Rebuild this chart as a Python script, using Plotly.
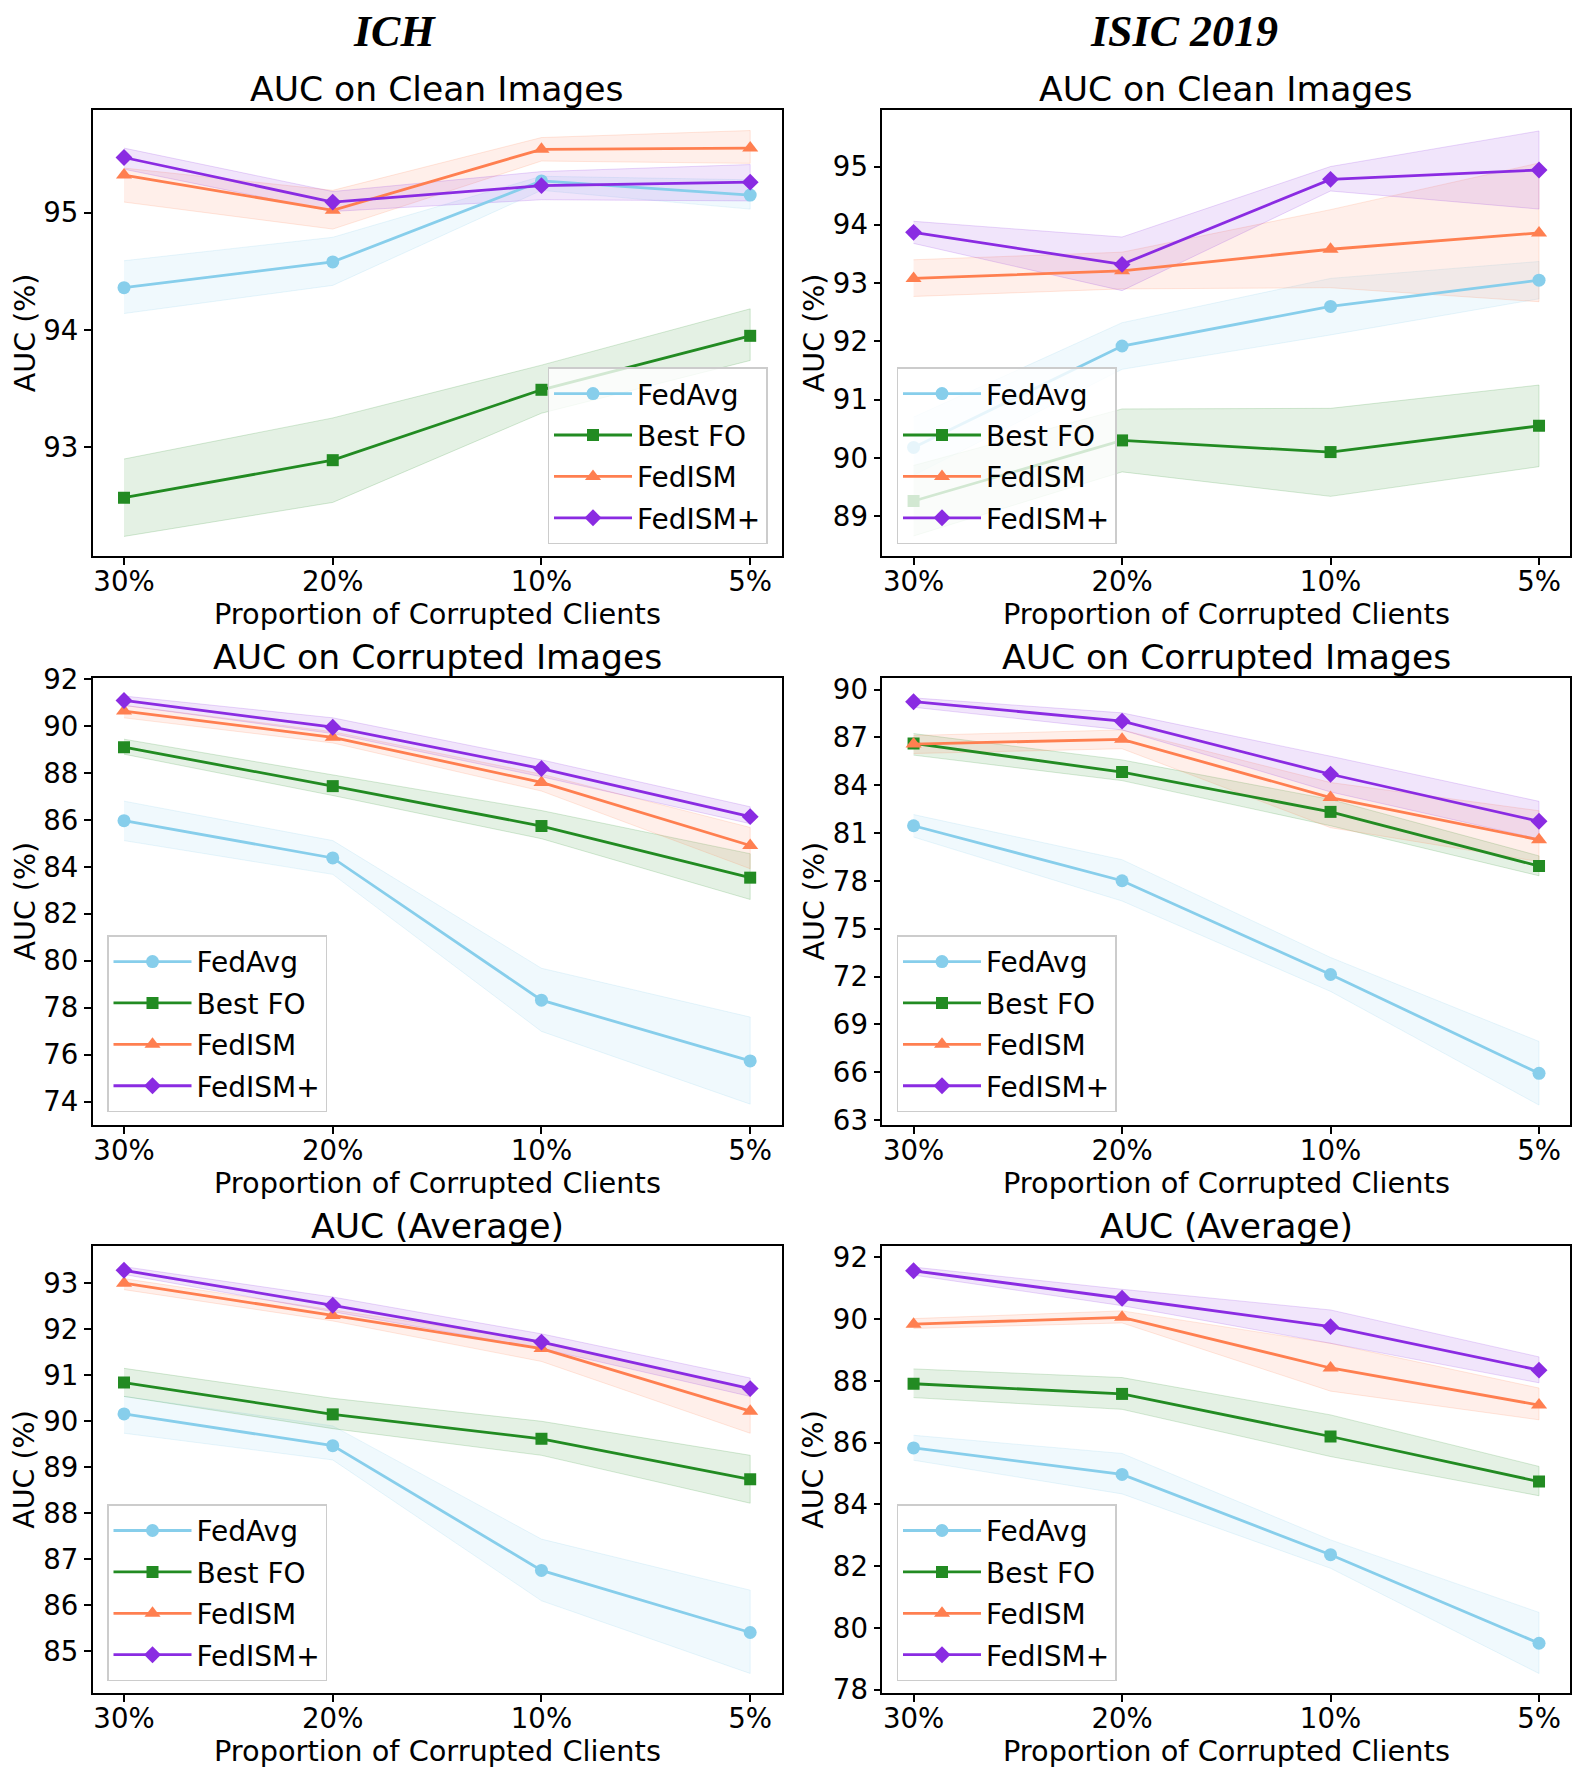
import plotly.graph_objects as go

W, H = 1578, 1786

# ---------------- data ----------------
x_labels = ["30%", "20%", "10%", "5%"]
methods = ["FedAvg", "Best FO", "FedISM", "FedISM+"]
column_titles = ["ICH", "ISIC 2019"]
panel_titles = ["AUC on Clean Images", "AUC on Corrupted Images", "AUC (Average)"]

# ICH - clean
ich_clean_fedavg = [94.36, 94.58, 95.27, 95.15]
ich_clean_fedavg_lo = [94.14, 94.38, 95.19, 95.03]
ich_clean_fedavg_hi = [94.59, 94.79, 95.31, 95.28]
ich_clean_bestfo = [92.57, 92.89, 93.49, 93.95]
ich_clean_bestfo_lo = [92.24, 92.53, 93.29, 93.74]
ich_clean_bestfo_hi = [92.90, 93.25, 93.70, 94.18]
ich_clean_fedism = [95.32, 95.02, 95.54, 95.55]
ich_clean_fedism_lo = [95.09, 94.86, 95.44, 95.42]
ich_clean_fedism_hi = [95.38, 95.19, 95.64, 95.70]
ich_clean_fedismp = [95.47, 95.09, 95.23, 95.26]
ich_clean_fedismp_lo = [95.37, 95.01, 95.11, 95.10]
ich_clean_fedismp_hi = [95.55, 95.18, 95.35, 95.41]

# ISIC 2019 - clean
isic_clean_fedavg = [90.18, 91.92, 92.60, 93.05]
isic_clean_fedavg_lo = [89.70, 91.52, 92.11, 92.73]
isic_clean_fedavg_hi = [90.70, 92.32, 93.08, 93.37]
isic_clean_bestfo = [89.26, 90.30, 90.10, 90.55]
isic_clean_bestfo_lo = [88.66, 89.76, 89.34, 89.85]
isic_clean_bestfo_hi = [89.87, 90.84, 90.85, 91.25]
isic_clean_fedism = [93.08, 93.21, 93.58, 93.86]
isic_clean_fedism_lo = [92.77, 92.90, 92.92, 92.68]
isic_clean_fedism_hi = [93.40, 93.53, 94.26, 95.06]
isic_clean_fedismp = [93.87, 93.32, 94.78, 94.94]
isic_clean_fedismp_lo = [93.68, 92.87, 94.58, 94.27]
isic_clean_fedismp_hi = [94.06, 93.79, 95.00, 95.61]

# ICH - corrupted
ich_corr_fedavg = [85.97, 84.38, 78.32, 75.73]
ich_corr_fedavg_lo = [85.12, 83.68, 76.99, 73.89]
ich_corr_fedavg_hi = [86.80, 85.12, 79.68, 77.60]
ich_corr_bestfo = [89.10, 87.44, 85.74, 83.54]
ich_corr_bestfo_lo = [88.80, 87.04, 85.20, 82.61]
ich_corr_bestfo_hi = [89.44, 87.92, 86.40, 84.56]
ich_corr_fedism = [90.64, 89.52, 87.60, 84.91]
ich_corr_fedism_lo = [90.35, 89.28, 87.23, 83.92]
ich_corr_fedism_hi = [90.88, 89.76, 87.95, 85.68]
ich_corr_fedismp = [91.09, 89.95, 88.19, 86.14]
ich_corr_fedismp_lo = [90.88, 89.68, 87.84, 85.84]
ich_corr_fedismp_hi = [91.28, 90.35, 88.56, 86.56]

# ISIC 2019 - corrupted
isic_corr_fedavg = [81.46, 78.01, 72.13, 65.93]
isic_corr_fedavg_lo = [80.75, 76.74, 71.07, 63.94]
isic_corr_fedavg_hi = [82.16, 79.33, 73.20, 67.93]
isic_corr_bestfo = [86.62, 84.83, 82.33, 78.93]
isic_corr_bestfo_lo = [85.89, 84.29, 81.46, 78.32]
isic_corr_bestfo_hi = [87.24, 85.59, 83.11, 79.57]
isic_corr_fedism = [86.58, 86.88, 83.23, 80.58]
isic_corr_fedism_lo = [85.99, 86.29, 81.34, 79.21]
isic_corr_fedism_hi = [87.12, 87.47, 84.17, 82.40]
isic_corr_fedismp = [89.24, 88.02, 84.69, 81.74]
isic_corr_fedismp_lo = [88.89, 87.47, 83.58, 80.63]
isic_corr_fedismp_hi = [89.48, 88.54, 85.82, 82.99]

# ICH - average
ich_avg_fedavg = [90.16, 89.47, 86.76, 85.41]
ich_avg_fedavg_lo = [89.74, 89.16, 86.10, 84.52]
ich_avg_fedavg_hi = [90.54, 89.90, 87.44, 86.33]
ich_avg_bestfo = [90.84, 90.15, 89.62, 88.74]
ich_avg_bestfo_lo = [90.54, 89.84, 89.26, 88.22]
ich_avg_bestfo_hi = [91.15, 90.50, 90.00, 89.26]
ich_avg_fedism = [93.00, 92.30, 91.58, 90.22]
ich_avg_fedism_lo = [92.86, 92.18, 91.30, 89.74]
ich_avg_fedism_hi = [93.10, 92.42, 91.74, 90.70]
ich_avg_fedismp = [93.28, 92.52, 91.72, 90.71]
ich_avg_fedismp_lo = [93.19, 92.38, 91.58, 90.54]
ich_avg_fedismp_hi = [93.36, 92.70, 91.90, 90.94]

# ISIC 2019 - average
isic_avg_fedavg = [85.83, 84.97, 82.37, 79.50]
isic_avg_fedavg_lo = [85.43, 84.34, 81.93, 78.52]
isic_avg_fedavg_hi = [86.24, 85.65, 82.85, 80.50]
isic_avg_bestfo = [87.91, 87.58, 86.20, 84.74]
isic_avg_bestfo_lo = [87.46, 87.08, 85.55, 84.28]
isic_avg_bestfo_hi = [88.39, 88.11, 86.90, 85.23]
isic_avg_fedism = [89.84, 90.06, 88.42, 87.22]
isic_avg_fedism_lo = [89.70, 89.88, 87.67, 86.74]
isic_avg_fedism_hi = [90.02, 90.27, 89.22, 87.77]
isic_avg_fedismp = [91.57, 90.68, 89.76, 88.35]
isic_avg_fedismp_lo = [91.43, 90.44, 89.22, 87.94]
isic_avg_fedismp_hi = [91.69, 90.97, 90.30, 88.78]

# y-axis ticks per panel
ich_clean_ticks = [93, 94, 95]
isic_clean_ticks = [89, 90, 91, 92, 93, 94, 95]
ich_corr_ticks = [74, 76, 78, 80, 82, 84, 86, 88, 90, 92]
isic_corr_ticks = [63, 66, 69, 72, 75, 78, 81, 84, 87, 90]
ich_avg_ticks = [85, 86, 87, 88, 89, 90, 91, 92, 93]
isic_avg_ticks = [78, 80, 82, 84, 86, 88, 90, 92]

# ---------------- style ----------------
colors = ["#87CEEB", "#228B22", "#FF7F50", "#8A2BE2"]
rgb = [(135, 206, 235), (34, 139, 34), (255, 127, 80), (138, 43, 226)]
symbols = ["circle", "square", "triangle-up", "diamond"]
msizes = [13, 12, 14, 13]
FONT = "DejaVu Sans"

panels = [
    dict(series=[ich_clean_fedavg, ich_clean_bestfo, ich_clean_fedism, ich_clean_fedismp],
         lo=[ich_clean_fedavg_lo, ich_clean_bestfo_lo, ich_clean_fedism_lo, ich_clean_fedismp_lo],
         hi=[ich_clean_fedavg_hi, ich_clean_bestfo_hi, ich_clean_fedism_hi, ich_clean_fedismp_hi],
         ticks=ich_clean_ticks, yr=[92.07, 95.875], row=0, col=0, title=panel_titles[0],
         leg=(767.5, 358, "right")),
    dict(series=[isic_clean_fedavg, isic_clean_bestfo, isic_clean_fedism, isic_clean_fedismp],
         lo=[isic_clean_fedavg_lo, isic_clean_bestfo_lo, isic_clean_fedism_lo, isic_clean_fedismp_lo],
         hi=[isic_clean_fedavg_hi, isic_clean_bestfo_hi, isic_clean_fedism_hi, isic_clean_fedismp_hi],
         ticks=isic_clean_ticks, yr=[88.31, 95.97], row=0, col=1, title=panel_titles[0],
         leg=(896.5, 358, "left")),
    dict(series=[ich_corr_fedavg, ich_corr_bestfo, ich_corr_fedism, ich_corr_fedismp],
         lo=[ich_corr_fedavg_lo, ich_corr_bestfo_lo, ich_corr_fedism_lo, ich_corr_fedismp_lo],
         hi=[ich_corr_fedavg_hi, ich_corr_bestfo_hi, ich_corr_fedism_hi, ich_corr_fedismp_hi],
         ticks=ich_corr_ticks, yr=[73.0, 92.05], row=1, col=0, title=panel_titles[1],
         leg=(107, 935, "left")),
    dict(series=[isic_corr_fedavg, isic_corr_bestfo, isic_corr_fedism, isic_corr_fedismp],
         lo=[isic_corr_fedavg_lo, isic_corr_bestfo_lo, isic_corr_fedism_lo, isic_corr_fedismp_lo],
         hi=[isic_corr_fedavg_hi, isic_corr_bestfo_hi, isic_corr_fedism_hi, isic_corr_fedismp_hi],
         ticks=isic_corr_ticks, yr=[62.69, 90.73], row=1, col=1, title=panel_titles[1],
         leg=(896.5, 935, "left")),
    dict(series=[ich_avg_fedavg, ich_avg_bestfo, ich_avg_fedism, ich_avg_fedismp],
         lo=[ich_avg_fedavg_lo, ich_avg_bestfo_lo, ich_avg_fedism_lo, ich_avg_fedismp_lo],
         hi=[ich_avg_fedavg_hi, ich_avg_bestfo_hi, ich_avg_fedism_hi, ich_avg_fedismp_hi],
         ticks=ich_avg_ticks, yr=[84.09, 93.8], row=2, col=0, title=panel_titles[2],
         leg=(107, 1513, "left")),
    dict(series=[isic_avg_fedavg, isic_avg_bestfo, isic_avg_fedism, isic_avg_fedismp],
         lo=[isic_avg_fedavg_lo, isic_avg_bestfo_lo, isic_avg_fedism_lo, isic_avg_fedismp_lo],
         hi=[isic_avg_fedavg_hi, isic_avg_bestfo_hi, isic_avg_fedism_hi, isic_avg_fedismp_hi],
         ticks=isic_avg_ticks, yr=[77.88, 92.36], row=2, col=1, title=panel_titles[2],
         leg=(896.5, 1513, "left")),
]

col_px = [(92.7, 781.5), (882.3, 1570.3)]
row_px = [(96.5, 550.0), (673.5, 1127.7), (1251.0, 1705.0)]


def px_x(v):
    return v / W


def px_y(v):
    return 1 - v / H


fig = go.Figure()
layout = dict(
    width=W, height=H, autosize=False,
    margin=dict(l=0, r=0, t=0, b=0),
    paper_bgcolor="white", plot_bgcolor="white",
    font=dict(family=FONT, color="black"),
    showlegend=True,
)
annotations = []
xs = list(range(len(x_labels)))

for p_i, p in enumerate(panels):
    n = p_i + 1
    xa = "x" if n == 1 else f"x{n}"
    ya = "y" if n == 1 else f"y{n}"
    leg = "legend" if n == 1 else f"legend{n}"
    c0, c1 = col_px[p["col"]]
    r0, r1 = row_px[p["row"]]

    # shaded bands first
    for s_i in range(4):
        r, g, b = rgb[s_i]
        fig.add_trace(go.Scatter(
            x=xs + xs[::-1], y=p["hi"][s_i] + p["lo"][s_i][::-1],
            fill="toself", fillcolor=f"rgba({r},{g},{b},0.12)",
            line=dict(color=f"rgba({r},{g},{b},0.18)", width=1),
            mode="lines", showlegend=False, hoverinfo="skip",
            xaxis=xa, yaxis=ya,
        ))
    for s_i in range(4):
        fig.add_trace(go.Scatter(
            x=xs, y=p["series"][s_i], name=methods[s_i],
            mode="lines+markers",
            line=dict(color=colors[s_i], width=2.8),
            marker=dict(symbol=symbols[s_i], size=msizes[s_i], color=colors[s_i]),
            xaxis=xa, yaxis=ya, legend=leg, legendgroup=f"g{n}_{s_i}",
        ))

    axis_common = dict(
        showline=True, mirror=True, linecolor="black", linewidth=1.6,
        ticks="outside", ticklen=7, tickwidth=1.6, tickcolor="black",
        showgrid=False, zeroline=False,
        tickfont=dict(family=FONT, size=27.6, color="black"),
    )
    layout["xaxis" if n == 1 else f"xaxis{n}"] = dict(
        axis_common, domain=[px_x(c0), px_x(c1)], range=[-0.15, 3.15],
        tickvals=xs, ticktext=x_labels, anchor=ya, ticklabelstandoff=-7,
    )
    layout["yaxis" if n == 1 else f"yaxis{n}"] = dict(
        axis_common, domain=[px_y(r1), px_y(r0)], range=p["yr"],
        tickvals=p["ticks"], ticktext=[str(t) for t in p["ticks"]], anchor=xa,
    )
    lx, ly, lanchor = p["leg"]
    layout[leg] = dict(
        x=px_x(lx), y=px_y(ly), xanchor=lanchor, yanchor="top",
        xref="paper", yref="paper",
        bgcolor="rgba(255,255,255,0.8)", bordercolor="#cccccc", borderwidth=1.5,
        font=dict(family=FONT, size=28, color="black"),
        tracegroupgap=2, itemwidth=78,
    )
    cx = (c0 + c1) / 2
    # panel title
    annotations.append(dict(
        text=p["title"], x=px_x(cx), y=px_y(r0 - 21), xref="paper", yref="paper",
        xanchor="center", yanchor="middle", showarrow=False,
        font=dict(family=FONT, size=34.6, color="black"),
    ))
    # x axis title
    annotations.append(dict(
        text="Proportion of Corrupted Clients", x=px_x(cx), y=px_y(r1 + 59),
        xref="paper", yref="paper", xanchor="center", yanchor="middle", showarrow=False,
        font=dict(family=FONT, size=28.8, color="black"),
    ))
    # y axis title
    annotations.append(dict(
        text="AUC (%)", x=px_x(25 + (789 if p["col"] == 1 else 0)), y=px_y((r0 + r1) / 2),
        xref="paper", yref="paper", xanchor="center", yanchor="middle", showarrow=False,
        textangle=-90, font=dict(family=FONT, size=28.5, color="black"),
    ))

for c_i, t in enumerate(column_titles):
    annotations.append(dict(
        text=f"<b><i>{t}</i></b>", x=px_x(394.5 + 789 * c_i), y=px_y(17),
        xref="paper", yref="paper", xanchor="center", yanchor="middle", showarrow=False,
        font=dict(family="Liberation Serif", size=44, color="black"),
    ))

layout["annotations"] = annotations
fig.update_layout(**layout)
fig.write_html(
    "out.html",
    config={"displayModeBar": False},
    post_script="document.body.style.margin='0';document.body.style.padding='0';"
                "document.documentElement.style.overflow='hidden';",
)
